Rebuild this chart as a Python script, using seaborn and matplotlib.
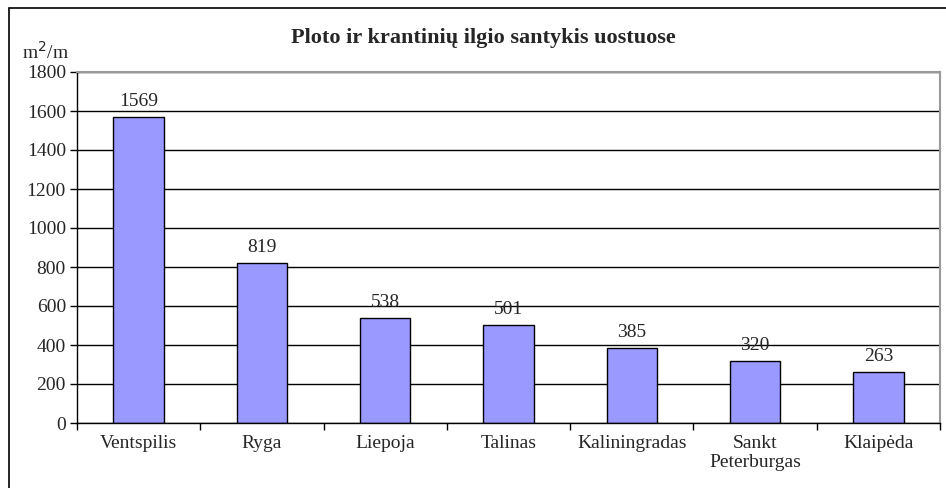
import matplotlib
matplotlib.use("Agg")
import matplotlib.pyplot as plt
import seaborn as sns
import numpy as np
from matplotlib.patches import Rectangle

# duomenys
ports = ["Ventspilis", "Ryga", "Liepoja", "Talinas", "Kaliningradas",
         "Sankt\nPeterburgas", "Klaipėda"]
ratio = [1569, 819, 538, 501, 385, 320, 263]
yticks = [0, 200, 400, 600, 800, 1000, 1200, 1400, 1600, 1800]

FS = 14

sns.set_style("white")
plt.rcParams['font.family'] = ['Liberation Serif', 'DejaVu Serif']

fig = plt.figure(figsize=(9.46, 4.88), dpi=100)
ax = fig.add_axes([77 / 946, 65 / 488, 863 / 946, 351 / 488])

sns.barplot(x=ports, y=ratio, color="#9999ff", saturation=1,
            edgecolor="black", linewidth=1.0, width=0.41, ax=ax)

ax.set_ylim(0, 1800)
ax.set_xlim(-0.5, len(ports) - 0.5)
ax.set_yticks(yticks)
ax.set_yticklabels([str(t) for t in yticks], fontsize=FS)
ax.tick_params(axis='y', length=5, width=1, color='black', pad=3, direction='out', left=True)
ax.set_xticks(range(len(ports)))
ax.set_xticklabels(ports, fontsize=FS, linespacing=1.1)
ax.tick_params(axis='x', which='major', length=0, pad=9)
ax.set_xticks(np.arange(-0.5, len(ports)), minor=True)
ax.tick_params(axis='x', which='minor', length=5, width=1, color='black', direction='out', bottom=True)

ax.yaxis.grid(True, color='black', linewidth=1)
ax.set_axisbelow(True)
for side in ['top', 'right']:
    ax.spines[side].set_color('#999999')
    ax.spines[side].set_linewidth(1.5)
for side in ['left', 'bottom']:
    ax.spines[side].set_color('black')
    ax.spines[side].set_linewidth(1)

for i, v in enumerate(ratio):
    ax.text(i, v + 35, str(v), ha='center', va='bottom', fontsize=FS)

ax.set_xlabel("")
ax.set_ylabel("")

fig.text(483 / 946, 1 - 38 / 488, "Ploto ir krantinių ilgio santykis uostuose",
         ha='center', va='center', fontsize=16, fontweight='bold')
fig.text(22 / 946, 1 - 52 / 488, "m$^2$/m", ha='left', va='center', fontsize=FS)

# išorinis rėmelis
fig.patches.append(Rectangle((9 / 946, -0.1), 1.0, 1 - 8 / 488 + 0.1,
                             transform=fig.transFigure, fill=False,
                             edgecolor='black', linewidth=1.2))

fig.savefig("out.png", dpi=100)
